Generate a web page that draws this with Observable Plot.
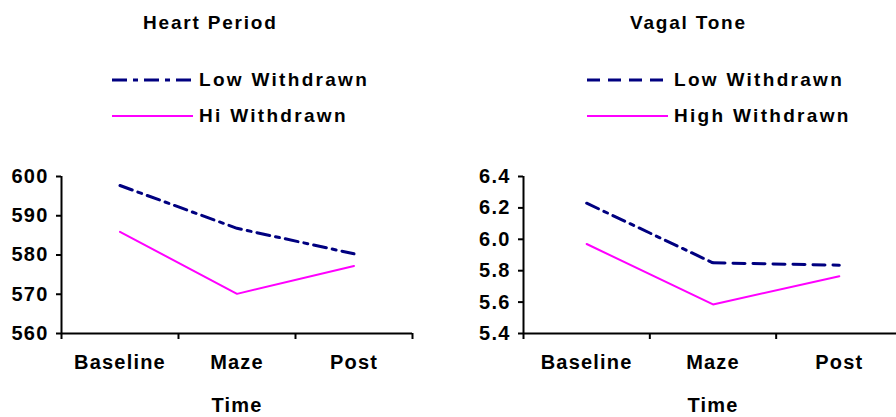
<!DOCTYPE html>
<html>
<head>
<meta charset="utf-8">
<script src="https://cdn.jsdelivr.net/npm/d3@7"></script>
<script src="https://cdn.jsdelivr.net/npm/@observablehq/plot@0.6"></script>
<style>
  html, body { margin: 0; padding: 0; background: #fff; overflow: hidden; }
  #wrap { position: relative; width: 896px; height: 417px; overflow: hidden; background: #fff;
          font-family: "Liberation Sans", Arial, sans-serif; font-weight: bold; }
  .panel { position: absolute; top: 0; height: 417px; }
  .panel svg { max-width: none !important; }
  .title { position: absolute; font-size: 19px; letter-spacing: 1.8px; white-space: nowrap; line-height: 1; }
  .leg { position: absolute; white-space: nowrap; font-size: 19px; letter-spacing: 2.3px; line-height: 1; }
  .leg svg { position: absolute; left: 0; top: 0; }
  .leg span { position: absolute; }
</style>
</head>
<body>
<div id="wrap"></div>
<script>
// ---- data ----
const times = ["Baseline", "Maze", "Post"];
const heartLow = [597.7, 586.8, 580.3];
const heartHigh = [585.9, 570.1, 577.2];
const vagalLow = [6.23, 5.85, 5.835];
const vagalHigh = [5.97, 5.585, 5.765];
const heartTicks = [560, 570, 580, 590, 600];
const vagalTicks = [5.4, 5.6, 5.8, 6.0, 6.2, 6.4];
const heartLegend = ["Low Withdrawn", "Hi Withdrawn"];
const vagalLegend = ["Low Withdrawn", "High Withdrawn"];

const NAVY = "#000080", PINK = "#ff00ff";
const DASHDOT = "13,6,4,6", DASHED = "12,8";

const wrap = document.getElementById("wrap");

function rows(vals) { return vals.map((v, i) => ({ i: i + 0.5, t: times[i], v })); }

function panel({ left, width, marginLeft, marginRight, ticks, fmt, low, high, lowSegs }) {
  const lowRows = rows(low), highRows = rows(high);
  const marks = [
    Plot.ruleX([0], { stroke: "black", strokeWidth: 2 }),
    Plot.ruleY([ticks[0]], { stroke: "black", strokeWidth: 2 }),
    Plot.axisY({ ticks, tickFormat: fmt, tickSize: 5, tickPadding: 8, strokeWidth: 2, label: null,
                 fontSize: 20, style: { letterSpacing: "0.3px" } }),
    Plot.axisX({ ticks: [0, 1, 2, 3], tickFormat: () => "", tickSize: 6, strokeWidth: 2, label: null }),
    Plot.axisX({ ticks: [0.5, 1.5, 2.5], tickFormat: d => times[d - 0.5], tickSize: 0, tickPadding: 21,
                 fontSize: 20, label: "Time", labelAnchor: "center", labelArrow: "none", labelOffset: 78 }),
    Plot.line(highRows, { x: "i", y: "v", stroke: PINK, strokeWidth: 2 })
  ];
  lowSegs.forEach(([a, b, dash]) => {
    marks.push(Plot.line(lowRows.slice(a, b + 1), { x: "i", y: "v", stroke: NAVY, strokeWidth: 3, strokeDasharray: dash }));
  });
  const svg = Plot.plot({
    width, height: 417,
    marginLeft, marginRight, marginTop: 176, marginBottom: 84,
    x: { type: "linear", domain: [0, 3] },
    y: { domain: [ticks[0], ticks[ticks.length - 1]] },
    style: { fontFamily: "'Liberation Sans', Arial, sans-serif", fontSize: "20px", fontWeight: "bold",
             letterSpacing: "1.2px", color: "black", background: "white", overflow: "visible",
             maxWidth: "none", width: width + "px", height: "417px" },
    marks
  });
  const div = document.createElement("div");
  div.className = "panel";
  div.style.left = left + "px";
  div.style.width = width + "px";
  div.appendChild(svg);
  wrap.appendChild(div);
}

panel({ left: 0, width: 448, marginLeft: 61, marginRight: 36, ticks: heartTicks, fmt: d3.format("d"),
        low: heartLow, high: heartHigh, lowSegs: [[0, 2, DASHDOT]] });
panel({ left: 448, width: 462, marginLeft: 75, marginRight: 8, ticks: vagalTicks, fmt: d3.format(".1f"),
        low: vagalLow, high: vagalHigh, lowSegs: [[0, 1, DASHDOT], [1, 2, DASHED]] });

function addTitle(text, x) {
  const d = document.createElement("div");
  d.className = "title"; d.textContent = text;
  d.style.left = x + "px"; d.style.top = "13px";
  wrap.appendChild(d);
}
addTitle("Heart Period", 143);
addTitle("Vagal Tone", 630);

function addLegend(x, labels, lowDash) {
  const items = [[labels[0], NAVY, 3, lowDash, 80], [labels[1], PINK, 2, null, 116]];
  items.forEach(([lab, col, w, dash, y]) => {
    const d = document.createElement("div");
    d.className = "leg";
    d.style.left = x + "px"; d.style.top = (y - 10) + "px";
    const s = d3.create("svg").attr("width", 82).attr("height", 20);
    s.append("line").attr("x1", 0).attr("x2", 81).attr("y1", 10).attr("y2", 10)
      .attr("stroke", col).attr("stroke-width", w).attr("stroke-dasharray", dash);
    d.appendChild(s.node());
    const sp = document.createElement("span");
    sp.textContent = lab; sp.style.left = "87px"; sp.style.top = "0px";
    d.appendChild(sp);
    wrap.appendChild(d);
  });
}
addLegend(112, heartLegend, "15,6,5,6");
addLegend(587, vagalLegend, "13,8");
</script>
</body>
</html>
